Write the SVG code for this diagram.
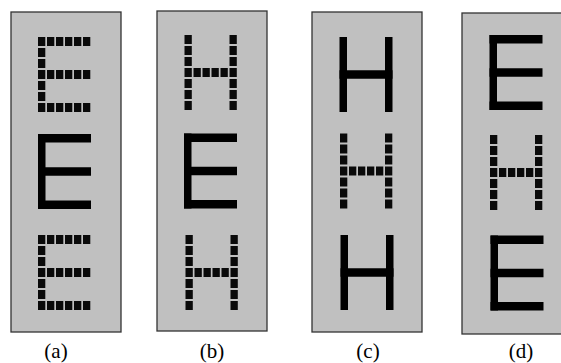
<svg xmlns="http://www.w3.org/2000/svg" xmlns:xlink="http://www.w3.org/1999/xlink" width="561" height="363" viewBox="0 0 561 363">
<style>
.panel{fill:#c0c0c0;stroke:#333;stroke-width:1.3}
.sq{fill:#0a0a0a}
.st{fill:#000}
.lbl{font-family:"Liberation Serif","Times New Roman",serif;font-size:21px;fill:#000;text-anchor:middle}
</style>
<defs>
<rect id="s" class="sq" width="7.3" height="9"/>
<g id="dotE">
<use href="#s" x="0" y="0"/><use href="#s" x="9" y="0"/><use href="#s" x="18" y="0"/><use href="#s" x="27" y="0"/><use href="#s" x="36" y="0"/><use href="#s" x="45" y="0"/>
<use href="#s" x="0" y="11"/><use href="#s" x="0" y="22"/>
<use href="#s" x="0" y="33"/><use href="#s" x="9" y="33"/><use href="#s" x="18" y="33"/><use href="#s" x="27" y="33"/><use href="#s" x="36" y="33"/><use href="#s" x="45" y="33"/>
<use href="#s" x="0" y="44"/><use href="#s" x="0" y="55"/>
<use href="#s" x="0" y="66"/><use href="#s" x="9" y="66"/><use href="#s" x="18" y="66"/><use href="#s" x="27" y="66"/><use href="#s" x="36" y="66"/><use href="#s" x="45" y="66"/>
</g>
<g id="dotH">
<use href="#s" x="0" y="0"/><use href="#s" x="45" y="0"/>
<use href="#s" x="0" y="11"/><use href="#s" x="45" y="11"/>
<use href="#s" x="0" y="22"/><use href="#s" x="45" y="22"/>
<use href="#s" x="0" y="33"/><use href="#s" x="9" y="33"/><use href="#s" x="18" y="33"/><use href="#s" x="27" y="33"/><use href="#s" x="36" y="33"/><use href="#s" x="45" y="33"/>
<use href="#s" x="0" y="44"/><use href="#s" x="45" y="44"/>
<use href="#s" x="0" y="55"/><use href="#s" x="45" y="55"/>
<use href="#s" x="0" y="66"/><use href="#s" x="45" y="66"/>
</g>
<g id="solE" class="st">
<rect x="0" y="0" width="7.5" height="75"/>
<rect x="0" y="0" width="53" height="8.5"/>
<rect x="0" y="33.25" width="53" height="8.5"/>
<rect x="0" y="66.5" width="53" height="8.5"/>
</g>
<g id="solH" class="st">
<rect x="0" y="0" width="7.5" height="75"/>
<rect x="45.5" y="0" width="7.5" height="75"/>
<rect x="0" y="33.25" width="53" height="8.5"/>
</g>
</defs>
<g id="panel-a">
<rect class="panel" x="11" y="12" width="110" height="320"/>
<use href="#dotE" x="38" y="37"/>
<use href="#solE" x="38" y="134"/>
<use href="#dotE" x="38" y="235"/>
<text class="lbl" x="56" y="358">(a)</text>
</g>
<g id="panel-b">
<rect class="panel" x="157" y="11" width="110" height="320"/>
<use href="#dotH" x="184.5" y="35"/>
<use href="#solE" x="184" y="133.5"/>
<use href="#dotH" x="185.5" y="235"/>
<text class="lbl" x="212" y="358">(b)</text>
</g>
<g id="panel-c">
<rect class="panel" x="312" y="12" width="110" height="320"/>
<use href="#solH" x="339.5" y="37"/>
<use href="#dotH" x="340" y="133.5"/>
<use href="#solH" x="340.5" y="235"/>
<text class="lbl" x="368" y="358">(c)</text>
</g>
<g id="panel-d">
<rect class="panel" x="462" y="13" width="110" height="321"/>
<use href="#solE" x="489.5" y="35"/>
<use href="#dotH" x="490" y="135"/>
<use href="#solE" x="490.5" y="235.5"/>
<text class="lbl" x="521" y="358">(d)</text>
</g>
</svg>
